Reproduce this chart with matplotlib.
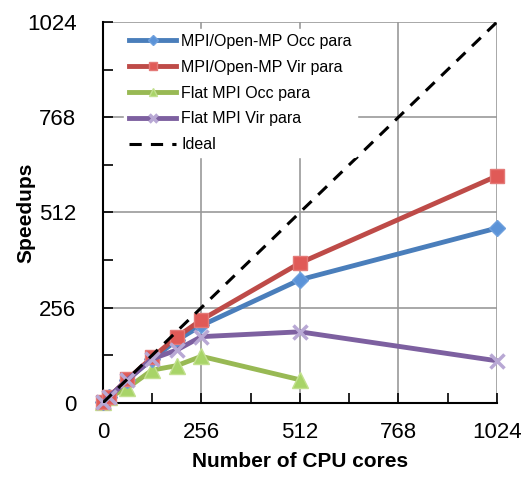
import matplotlib
matplotlib.use("Agg")
import matplotlib.pyplot as plt
from matplotlib.ticker import MultipleLocator

plt.rcParams['font.family'] = ['Liberation Sans Narrow', 'Liberation Sans', 'DejaVu Sans']

# cores used for each run
cores = [1, 16, 64, 128, 192, 256, 512, 1024]
cores_flat_occ = [1, 16, 64, 128, 192, 256, 512]

# speedups
hyb_occ = [1, 16, 62, 118, 168, 208, 331, 470]
hyb_vir = [1, 16, 63, 122, 177, 223, 376, 610]
flat_occ = [1, 15, 40, 88, 100, 125, 62]
flat_vir = [1, 16, 62, 118, 142, 178, 191, 113]
ideal = [0, 1024]

fig = plt.figure(figsize=(5.22, 4.79), dpi=100)
ax = fig.add_axes([0.197, 0.159, 0.755, 0.795])

ax.plot(cores, hyb_occ, color='#4A7EBB', lw=3.5, marker='D', ms=8.5,
        mfc='#5B93D8', mec='#6FA0DD', label='MPI/Open-MP Occ para', clip_on=False, zorder=4)
ax.plot(cores, hyb_vir, color='#BE4B48', lw=3.5, marker='s', ms=10.5,
        mfc='#E05A57', mec='#E47A78', label='MPI/Open-MP Vir para', clip_on=False, zorder=5)
ax.plot(cores_flat_occ, flat_occ, color='#98B954', lw=3.5, marker='^', ms=11,
        mfc='#A8D468', mec='#C2E08F', label='Flat MPI Occ para', clip_on=False, zorder=3)
ax.plot(cores, flat_vir, color='#7D60A0', lw=3.5, marker='x', ms=10, mew=2.5,
        mec='#B8A8D4', label='Flat MPI Vir para', clip_on=False, zorder=6)
ax.plot(ideal, ideal, color='black', lw=2.2, ls=(0, (4, 3)), label='Ideal', zorder=7)

ax.set_xlim(0, 1024)
ax.set_ylim(0, 1024)
ax.xaxis.set_major_locator(MultipleLocator(256))
ax.yaxis.set_major_locator(MultipleLocator(256))
ax.xaxis.set_minor_locator(MultipleLocator(128))
ax.yaxis.set_minor_locator(MultipleLocator(128))
ax.tick_params(which='both', direction='in', length=7, width=1.2, labelsize=16)
ax.tick_params(axis='x', pad=14)
ax.tick_params(axis='y', pad=19)
ax.grid(True, which='major', color='#999999', lw=1.2)
ax.set_axisbelow(True)
for s in ['top', 'right']:
    ax.spines[s].set_visible(False)
for s in ['left', 'bottom']:
    ax.spines[s].set_linewidth(1.5)

ax.set_xlabel('Number of CPU cores', fontsize=15, fontweight='bold',
              family=['Liberation Sans', 'DejaVu Sans'], labelpad=6)
ax.set_ylabel('Speedups', fontsize=15, fontweight='bold',
              family=['Liberation Sans', 'DejaVu Sans'], labelpad=-6)

leg = ax.legend(loc='upper left', bbox_to_anchor=(0.045, 0.99), fontsize=11.5,
                frameon=True, framealpha=1, edgecolor='white', handlelength=3.0,
                handletextpad=0.3, markerscale=0.55, labelspacing=0.68,
                borderpad=0.3, borderaxespad=0.2)
leg.set_zorder(10)

fig.savefig('out.png', dpi=100)
